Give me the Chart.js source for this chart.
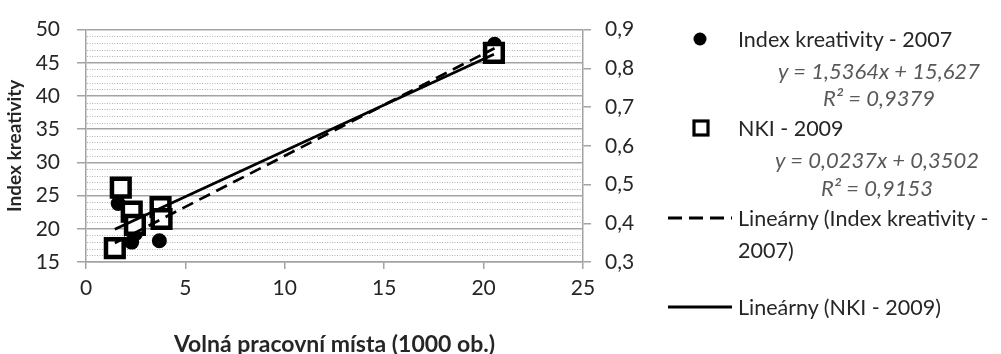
<!DOCTYPE html>
<html>
<head>
<meta charset="utf-8">
<script src="https://cdn.jsdelivr.net/npm/chart.js@4.4.1/dist/chart.umd.min.js"></script>
<style>
  html, body { margin: 0; padding: 0; background: #fff; }
  #wrap { position: relative; width: 1001px; height: 354px; overflow: hidden; }
  #c { position: absolute; left: 0; top: 0; }
  .lg { position: absolute; font-family: Lato, "Open Sans", sans-serif; font-size: 21.5px;
        color: #262626; white-space: nowrap; line-height: 22px; height: 22px; }
  .eq { font-style: italic; color: #595959; text-align: center; width: 260px; font-size: 22px; }
  .sym { position: absolute; }
</style>
</head>
<body>
<div id="wrap">
  <canvas id="c" width="1001" height="354"></canvas>

  <svg class="sym" style="left:690px;top:29px" width="20" height="20">
    <circle cx="10" cy="10" r="6.5" fill="#000"></circle>
  </svg>
  <div class="lg" style="left:738px;top:28px">Index kreativity - 2007</div>
  <div class="lg eq" id="eq2007" style="left:749px;top:60px"></div>
  <div class="lg eq" id="r2007" style="left:749px;top:87px"></div>

  <svg class="sym" style="left:691px;top:118px" width="20" height="20">
    <rect x="3" y="3" width="14" height="14" fill="#fff" stroke="#000" stroke-width="3.2"></rect>
  </svg>
  <div class="lg" style="left:738px;top:117px">NKI - 2009</div>
  <div class="lg eq" id="eqNKI" style="left:747px;top:149px"></div>
  <div class="lg eq" id="rNKI" style="left:747px;top:177px"></div>

  <svg class="sym" style="left:666px;top:212px" width="68" height="12">
    <line x1="2" y1="6" x2="66" y2="6" stroke="#000" stroke-width="3" stroke-dasharray="14 7"></line>
  </svg>
  <div class="lg" style="left:738px;top:207px">Lineárny (Index kreativity -</div>
  <div class="lg" style="left:738px;top:239px">2007)</div>

  <svg class="sym" style="left:666px;top:301px" width="68" height="12">
    <line x1="2" y1="6" x2="66" y2="6" stroke="#000" stroke-width="3"></line>
  </svg>
  <div class="lg" style="left:738px;top:296px">Lineárny (NKI - 2009)</div>
</div>

<script>
// Volná pracovní místa (thousands) and Index kreativity, 2007
const xIndex2007 = [1.62, 1.45, 2.30, 2.50, 3.69, 3.80, 20.55];
const yIndex2007 = [23.8, 17.0, 18.0, 19.3, 18.2, 22.5, 47.8];

// Volná pracovní místa (thousands) and NKI, 2009
const xNKI2009 = [1.75, 2.30, 3.75, 3.80, 2.46, 1.45, 20.52];
const yNKI2009 = [0.492, 0.430, 0.442, 0.411, 0.396, 0.336, 0.840];

// Linear trend coefficients: [slope, intercept, R²]
const trend2007 = [1.5364, 15.627, 0.9379];
const trendNKI = [0.0237, 0.3502, 0.9153];

// Axis ranges and tick steps
const xTicks = [0, 25, 5];
const yLeftTicks = [15, 50, 5];
const yRightTicks = [0.3, 0.9, 0.1];

const comma = (v, d) => v.toFixed(d).replace('.', ',');
const eqText = t => 'y = ' + comma(t[0], 4) + 'x + ' + comma(t[1], t === trend2007 ? 3 : 4);
const r2Text = t => 'R² = ' + comma(t[2], 4);
document.getElementById('eq2007').textContent = eqText(trend2007);
document.getElementById('r2007').textContent = r2Text(trend2007);
document.getElementById('eqNKI').textContent = eqText(trendNKI);
document.getElementById('rNKI').textContent = r2Text(trendNKI);

const pts = (xs, ys) => xs.map((x, i) => ({ x, y: ys[i] }));
const trendPts = (xs, t) => {
  const lo = Math.min(...xs), hi = Math.max(...xs);
  return [{ x: lo, y: t[0] * lo + t[1] }, { x: hi, y: t[0] * hi + t[1] }];
};

const GRID = '#a3a3a3';
const TXT = '#262626';
const FONT = 'Lato';

// dotted minor gridlines every 1 unit of the left axis
const minorGrid = {
  id: 'minorGrid',
  beforeDatasetsDraw(chart) {
    const { ctx, chartArea: a, scales: { y } } = chart;
    ctx.save();
    ctx.strokeStyle = '#b0b0b0';
    ctx.lineWidth = 1;
    ctx.setLineDash([1, 1.5]);
    for (let v = yLeftTicks[0] + 1; v < yLeftTicks[1]; v++) {
      if (v % yLeftTicks[2] === 0) continue;
      const py = Math.round(y.getPixelForValue(v)) + 0.5;
      ctx.beginPath();
      ctx.moveTo(a.left + 1, py);
      ctx.lineTo(a.right - 1, py);
      ctx.stroke();
    }
    ctx.restore();
  }
};

new Chart(document.getElementById('c'), {
  type: 'scatter',
  data: {
    datasets: [
      {
        label: 'Lineárny (Index kreativity - 2007)',
        data: trendPts(xIndex2007, trend2007),
        yAxisID: 'y', showLine: true, pointRadius: 0,
        borderColor: '#000', borderWidth: 2.7, borderDash: [12, 7], order: 0
      },
      {
        label: 'Lineárny (NKI - 2009)',
        data: trendPts(xNKI2009, trendNKI),
        yAxisID: 'y1', showLine: true, pointRadius: 0,
        borderColor: '#000', borderWidth: 2.7, order: 0
      },
      {
        label: 'NKI - 2009',
        data: pts(xNKI2009, yNKI2009),
        yAxisID: 'y1', pointStyle: 'rect', pointRadius: 12.5,
        backgroundColor: '#fff', borderColor: '#000', borderWidth: 4.5, order: 1
      },
      {
        label: 'Index kreativity - 2007',
        data: pts(xIndex2007, yIndex2007),
        yAxisID: 'y', pointStyle: 'circle', pointRadius: 7.5,
        backgroundColor: '#000', borderColor: '#000', borderWidth: 0, order: 2
      }
    ]
  },
  options: {
    responsive: false,
    animation: false,
    devicePixelRatio: 1,
    layout: { padding: { left: 0, top: 21, right: 338, bottom: 0 } },
    plugins: { legend: { display: false }, tooltip: { enabled: false } },
    scales: {
      x: {
        type: 'linear', position: 'bottom',
        min: xTicks[0], max: xTicks[1],
        ticks: { stepSize: xTicks[2], color: TXT, font: { family: FONT, size: 21 }, padding: 7, maxRotation: 0 },
        grid: { drawOnChartArea: false, tickLength: 7, color: GRID, lineWidth: 1.5 },
        border: { display: true, color: GRID, width: 1.5 },
        title: { display: true, text: 'Volná pracovní místa (1000 ob.)', color: TXT,
                 font: { family: FONT, size: 23, weight: 'bold' }, padding: { top: 0, bottom: -4 } },
        afterFit(s) { s.height = 92; }
      },
      y: {
        position: 'left',
        min: yLeftTicks[0], max: yLeftTicks[1],
        ticks: { stepSize: yLeftTicks[2], color: TXT, font: { family: FONT, size: 21 }, padding: 17 },
        grid: { color: GRID, lineWidth: 1.5, tickLength: 9 },
        border: { display: true, color: GRID, width: 1.5 },
        title: { display: true, text: 'Index kreativity', color: TXT,
                 font: { family: FONT, size: 19, weight: 'bold' }, padding: { top: 3, bottom: 0 } },
        afterFit(s) { s.width = 86; }
      },
      y1: {
        position: 'right',
        min: yRightTicks[0], max: yRightTicks[1],
        ticks: { stepSize: yRightTicks[2], color: TXT, font: { family: FONT, size: 21 }, padding: 14,
                 callback: v => comma(v, 1) },
        grid: { drawOnChartArea: false, color: GRID, lineWidth: 1.5, tickLength: 8 },
        border: { display: true, color: GRID, width: 1.5 },
        afterFit(s) { s.width = 80; }
      }
    }
  },
  plugins: [minorGrid]
});
</script>
</body>
</html>
